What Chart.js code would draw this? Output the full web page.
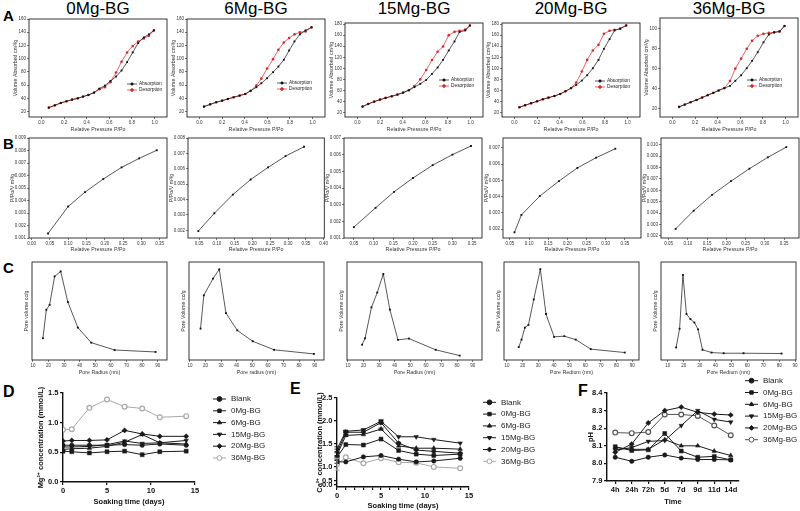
<!DOCTYPE html>
<html>
<head>
<meta charset="utf-8">
<title>Mg-BG characterisation</title>
<script src="https://cdn.jsdelivr.net/npm/chart.js@4.4.1/dist/chart.umd.min.js"></script>
<style>
  body { margin: 0; width: 800px; height: 511px; position: relative; overflow: hidden; background: #fff; font-family: "Liberation Sans", Arial, sans-serif; }
  canvas { position: absolute; }
  .tag { position: absolute; font-weight: bold; font-size: 15px; line-height: 1; color: #000; }
  .ttl { position: absolute; top: 0; width: 140px; text-align: center; font-size: 17px; line-height: 1; color: #000; }
</style>
</head>
<body>
<div class="tag" style="left:3px;top:8px">A</div>
<div class="tag" style="left:3px;top:136px">B</div>
<div class="tag" style="left:3px;top:260px">C</div>
<div class="tag" style="left:3px;top:384px;font-size:16px">D</div>
<div class="tag" style="left:290px;top:381px;font-size:16px">E</div>
<div class="tag" style="left:578px;top:383px;font-size:16px">F</div>
<div class="ttl" style="left:28px">0Mg-BG</div>
<div class="ttl" style="left:186px">6Mg-BG</div>
<div class="ttl" style="left:344px">15Mg-BG</div>
<div class="ttl" style="left:501px">20Mg-BG</div>
<div class="ttl" style="left:659px">36Mg-BG</div>

<script>
Chart.defaults.font.family = '"Liberation Sans", Arial, sans-serif';
Chart.defaults.color = '#222';

// ---- A: N2 adsorption / desorption isotherms ----
const pA1 = [0.065,0.118,0.171,0.221,0.271,0.321,0.368,0.415,0.465,0.512,0.561,0.61,0.66,0.708,0.757,0.807,0.855,0.905,0.95,0.994];
const adsA1 = [26.1,29.6,33.2,35.7,38.2,40.2,42.8,45.3,48.8,54.9,59.4,66.5,73.1,82.2,94.8,109.5,123.6,132.2,136.8,142.8];
const desA1 = [26.1,29.6,33.2,35.7,38.2,40.2,42.8,45.3,48.8,53.9,57,64.5,79.2,95.3,109.5,119.1,126.1,130.7,134.7,142.8];

const pA2 = [0.04,0.095,0.148,0.201,0.251,0.302,0.355,0.405,0.453,0.503,0.547,0.598,0.651,0.698,0.746,0.793,0.84,0.888,0.938,0.991];
const adsA2 = [27.6,31.1,34.2,36.7,39.2,41.8,44.3,46.8,51.5,57,63,70.6,79.7,88.2,98.4,112.5,126.1,136.8,142.8,147.4];
const desA2 = [27.6,31.1,34.2,36.7,39.2,41.8,44.3,46.8,51.5,59.5,70,85.2,99.4,113.5,124.6,131.2,136.8,139.8,141.3,147.4];

const pA3 = [0.045,0.095,0.148,0.199,0.249,0.303,0.353,0.404,0.454,0.504,0.555,0.608,0.659,0.709,0.757,0.807,0.858,0.902,0.953,0.994];
const adsA3 = [30.8,35.6,39.8,43.4,46.5,49.5,52.5,56.1,60.4,66,72,79,90,101.5,115.3,132.3,148.6,165.5,168.5,177.6];
const desA3 = [30.8,35.6,39.8,43.4,46.5,49.5,52.5,56.1,60.4,68,80,97,115,130,139.5,160,166,168,170,177.6];

const pA4 = [0.044,0.094,0.147,0.2,0.251,0.301,0.354,0.404,0.451,0.501,0.546,0.596,0.643,0.693,0.743,0.791,0.841,0.885,0.935,0.988];
const adsA4 = [29.5,33.2,36.8,40.4,44,47,50,53.7,58.5,64,70,77.9,87.6,100.2,115.3,135.3,152.8,168.5,172,177.6];
const desA4 = [29.5,33.2,36.8,40.4,44,47,50,53.7,58.5,64.5,74.3,94.2,115.3,132.3,142.5,162.5,167.9,169.7,171.5,177.6];

const pA5 = [0.059,0.109,0.16,0.213,0.263,0.311,0.361,0.408,0.459,0.509,0.556,0.607,0.657,0.704,0.754,0.805,0.852,0.899,0.947,0.991];
const adsA5 = [21.4,23.7,26.1,28.4,30.8,33.2,35.5,37.9,40.3,42.6,47.7,53.3,60.4,67.8,76.5,86.5,94.3,96.6,97.3,103];
const desA5 = [21.4,23.7,26.1,28.4,30.8,33.2,35.5,37.9,40.3,47.5,60,70,80,88,93,95,96,96.5,97.5,103];

// ---- B: BET plots ----
const pB1 = [0.045,0.1,0.146,0.196,0.246,0.294,0.342];
const vB1 = [0.00136,0.00352,0.00467,0.00572,0.00665,0.00737,0.00802];
const pB2 = [0.048,0.093,0.145,0.195,0.244,0.293,0.345];
const vB2 = [0.00195,0.00311,0.00432,0.0053,0.00609,0.00682,0.00743];
const pB3 = [0.05,0.105,0.152,0.2,0.25,0.3,0.347];
const vB3 = [0.00165,0.00281,0.00377,0.0046,0.00537,0.006,0.00652];
const pB4 = [0.062,0.08,0.128,0.178,0.226,0.275,0.325];
const vB4 = [0.0018,0.00287,0.00403,0.00495,0.00576,0.00639,0.00694];
const pB5 = [0.068,0.115,0.163,0.212,0.26,0.308,0.356];
const vB5 = [0.0026,0.0042,0.0056,0.0068,0.0079,0.0089,0.0098];

// ---- C: pore size distributions (relative pore volume) ----
const rC1 = [16.4,18.6,20.7,23.9,27.8,32.4,38.8,47.4,62.4,88.7];
const vC1 = [0.222,0.512,0.563,0.853,0.904,0.591,0.331,0.177,0.102,0.082];
const rC2 = [16.8,18.9,24.8,28.8,33.1,40.4,50.3,64,89.5];
const vC2 = [0.32,0.66,0.83,0.925,0.479,0.302,0.191,0.104,0.062];
const rC3 = [19.1,21,25.1,28.8,32.7,36.9,42.1,49.1,66.3,81.7];
const vC3 = [0.156,0.222,0.538,0.688,0.878,0.514,0.205,0.219,0.104,0.045];
const rC4 = [17.5,19.3,21.4,23.7,27.1,31.3,34.9,40.1,46.6,53.9,63.5,85.2];
const vC4 = [0.132,0.208,0.33,0.358,0.618,0.927,0.469,0.236,0.243,0.208,0.111,0.076];
const rC5 = [15.2,17.4,19.5,21.7,24.2,26.7,29,31.8,37.5,45.1,57.6,81.5];
const vC5 = [0.128,0.319,0.868,0.469,0.417,0.382,0.313,0.104,0.076,0.069,0.069,0.066];

// ---- D / E / F: soaking experiments ----
const groups = ['Blank', '0Mg-BG', '6Mg-BG', '15Mg-BG', '20Mg-BG', '36Mg-BG'];
const days = [0, 1, 3, 5, 7, 9, 11, 14];
const mgIon = [
  [0.62,0.62,0.62,0.62,0.63,0.62,0.64,0.62],
  [0.52,0.51,0.49,0.51,0.52,0.46,0.51,0.52],
  [0.55,0.56,0.57,0.60,0.67,0.80,0.66,0.64],
  [0.59,0.59,0.60,0.63,0.69,0.65,0.66,0.70],
  [0.69,0.70,0.70,0.71,0.87,0.81,0.77,0.77],
  [0.88,0.89,1.25,1.39,1.27,1.24,1.09,1.11]
];
const caIon = [
  [1.10,1.10,1.21,1.24,1.16,1.10,1.12,1.18],
  [1.20,1.48,1.47,1.60,1.35,1.27,1.24,1.27],
  [1.25,1.68,1.70,1.82,1.45,1.40,1.40,1.38],
  [1.38,1.77,1.80,1.99,1.65,1.65,1.59,1.51],
  [1.30,1.75,1.75,1.96,1.51,1.36,1.33,1.29],
  [1.05,1.20,1.07,1.18,1.09,1.08,0.99,0.96]
];
// standard deviations shown as error bars in E
const caErr = [
  [0.03,0,0,0,0,0,0,0],
  [0.04,0,0,0,0,0,0,0],
  [0.05,0.02,0,0.02,0,0,0,0],
  [0.05,0.02,0.02,0.03,0,0,0,0],
  [0.08,0.02,0,0.03,0.02,0,0,0],
  [0.13,0,0,0,0,0,0,0]
];
const times = ['4h', '24h', '72h', '5d', '7d', '9d', '11d', '14d'];
const phVal = [
  [8.035,8.012,8.035,8.048,8.03,8.022,8.022,8.02],
  [8.095,8.073,8.077,8.17,8.07,8.035,8.04,8.02],
  [8.09,8.08,8.08,8.135,8.1,8.1,8.07,8.045],
  [8.075,8.09,8.125,8.13,8.215,8.30,8.25,8.235],
  [8.063,8.11,8.23,8.30,8.32,8.29,8.28,8.275],
  [8.175,8.172,8.178,8.278,8.278,8.27,8.215,8.16]
];

const tickPA = [0, 0.2, 0.4, 0.6, 0.8, 1.0];
const tickPB = [0, 0.05, 0.1, 0.15, 0.2, 0.25, 0.3, 0.35];
const tickR = [10, 20, 30, 40, 50, 60, 70, 80, 90];
const eTickVals = [0.6, 0.68, 1.0, 1.5, 2.0, 2.5];
const eTickText = ['0.0', '0.5', '1.0', '1.5', '2.0', '2.5'];

// ---------- plugins ----------
const framePlugin = {
  id: 'frame',
  afterDraw(chart, args, o) {
    if (!o.display) return;
    const { ctx, chartArea: a } = chart;
    ctx.save();
    ctx.strokeStyle = '#222';
    ctx.lineWidth = 0.9;
    ctx.strokeRect(a.left, a.top, a.right - a.left, a.bottom - a.top);
    ctx.restore();
  }
};

const keyPlugin = {
  id: 'key',
  afterDraw(chart, args, o) {
    if (!o.show) return;
    const ctx = chart.ctx;
    const base = o.inside ? chart.chartArea : { left: 0, top: 0 };
    ctx.save();
    ctx.font = o.font;
    ctx.textBaseline = 'middle';
    chart.data.datasets.forEach((ds, i) => {
      const x = base.left + o.x, y = base.top + o.y + i * o.gap;
      ctx.strokeStyle = ds.borderColor;
      ctx.lineWidth = ds.borderWidth;
      ctx.beginPath(); ctx.moveTo(x, y); ctx.lineTo(x + o.len, y); ctx.stroke();
      ctx.fillStyle = ds.pointBackgroundColor;
      ctx.strokeStyle = ds.pointBorderColor;
      ctx.lineWidth = 1;
      Chart.helpers.drawPoint(ctx, { pointStyle: ds.pointStyle, rotation: ds.pointRotation || 0, radius: o.r, borderWidth: ds.pointBorderWidth || 0.01 }, x + o.len / 2, y);
      ctx.fillStyle = '#222';
      ctx.fillText(ds.label, x + o.len + o.pad, y);
    });
    ctx.restore();
  }
};

// vertical error bars with caps, read from dataset.errors
const errPlugin = {
  id: 'errs',
  afterDatasetsDraw(chart) {
    const ctx = chart.ctx, ys = chart.scales.y;
    ctx.save();
    chart.data.datasets.forEach((ds, i) => {
      if (!ds.errors) return;
      const meta = chart.getDatasetMeta(i);
      ctx.strokeStyle = ds.borderColor;
      ctx.lineWidth = 1;
      meta.data.forEach((pt, j) => {
        const e = ds.errors[j];
        if (!e) return;
        const v = ds.data[j].y;
        const y1 = ys.getPixelForValue(v - e), y2 = ys.getPixelForValue(v + e);
        ctx.beginPath();
        ctx.moveTo(pt.x, y1); ctx.lineTo(pt.x, y2);
        ctx.moveTo(pt.x - 2.5, y1); ctx.lineTo(pt.x + 2.5, y1);
        ctx.moveTo(pt.x - 2.5, y2); ctx.lineTo(pt.x + 2.5, y2);
        ctx.stroke();
      });
    });
    ctx.restore();
  }
};
Chart.register(framePlugin, keyPlugin, errPlugin);

function addCanvas(left, top, w, h) {
  const c = document.createElement('canvas');
  c.width = w; c.height = h;
  c.style.left = left + 'px'; c.style.top = top + 'px';
  c.style.width = w + 'px'; c.style.height = h + 'px';
  document.body.appendChild(c);
  return c;
}

function xy(xs, ys) { return xs.map((x, i) => ({ x, y: ys[i] })); }

// ---------- small Origin-style panels ----------
function axisSmall(a, isX, size) {
  const o = {
    type: 'linear', position: isX ? 'bottom' : 'left',
    min: a.min, max: a.max,
    afterFit: s => { if (isX) s.height = size; else s.width = size; },
    grid: { display: !!a.ticks, drawOnChartArea: false, drawTicks: true, tickLength: 2, color: '#222', lineWidth: 0.6 },
    border: { display: false },
    ticks: { display: !!a.ticks, font: { size: 4.5 }, color: '#333', padding: 1, maxRotation: 0, autoSkip: false },
    title: { display: true, text: a.title, color: '#333', font: { size: 5.3 }, padding: isX ? { top: 0, bottom: a.tp } : { top: a.tp, bottom: 0 } }
  };
  if (a.ticks) {
    o.afterBuildTicks = s => { s.ticks = a.ticks.map(v => ({ value: v })); };
    o.ticks.callback = v => a.fmt(v);
  }
  return o;
}

function smallPanel(cfg) {
  const padT = 4, padR = 3, yw = 29;
  const cv = addCanvas(cfg.fl - yw, cfg.ft - padT, yw + cfg.fw + padR, padT + cfg.fh + cfg.xh);
  new Chart(cv, {
    type: 'scatter',
    data: { datasets: cfg.sets },
    options: {
      responsive: false, animation: false,
      layout: { padding: { top: padT, right: padR, left: 0, bottom: 0 }, autoPadding: false },
      scales: { x: axisSmall(cfg.x, true, cfg.xh), y: axisSmall(cfg.y, false, yw) },
      plugins: { legend: { display: false }, tooltip: { enabled: false }, frame: { display: true }, key: cfg.key || {} }
    }
  });
}

function line(label, data, color, style) {
  return { label, data, showLine: true, borderColor: color, pointBackgroundColor: color, pointBorderColor: color,
           borderWidth: 0.7, pointStyle: style, pointRadius: 1.3, pointBorderWidth: 0 };
}

const fmt1 = v => v.toFixed(1), fmt2 = v => v.toFixed(2), fmt3 = v => v.toFixed(3), fmt0 = v => String(v);
const framesL = [29, 187, 345, 502, 660];

// row A
const isoData = [[pA1, adsA1, desA1], [pA2, adsA2, desA2], [pA3, adsA3, desA3], [pA4, adsA4, desA4], [pA5, adsA5, desA5]];
const yA = [
  { min: 12, max: 160, ticks: [20, 40, 60, 80, 100, 120, 140, 160], ft: 19 },
  { min: 12, max: 160, ticks: [20, 40, 60, 80, 100, 120, 140, 160], ft: 19 },
  { min: 12, max: 182, ticks: [20, 40, 60, 80, 100, 120, 140, 160, 180], ft: 23 },
  { min: 12, max: 182, ticks: [20, 40, 60, 80, 100, 120, 140, 160, 180], ft: 23 },
  { min: 11.2, max: 111, ticks: [20, 40, 60, 80, 100], ft: 18 }
];
const keyA = [[98, 65], [90, 64], [94, 57], [93, 58], [87, 62]];
isoData.forEach((d, i) => {
  smallPanel({
    fl: framesL[i], ft: yA[i].ft, fw: 138, fh: 117 - yA[i].ft, xh: 17,
    sets: [line('Absorption', xy(d[0], d[1]), '#111', 'rect'), line('Desorption', xy(d[0], d[2]), '#d42a2a', 'circle')],
    x: { min: -0.11, max: 1.11, ticks: tickPA, fmt: fmt1, title: 'Relative Pressure P/Po', tp: 1.5 },
    y: { min: yA[i].min, max: yA[i].max, ticks: yA[i].ticks, fmt: fmt0, title: 'Volume Absorbed cm\u00b3/g', tp: 12 },
    key: { show: true, inside: true, x: keyA[i][0], y: keyA[i][1], gap: 6, len: 10, pad: 2, r: 1.3, font: '4.8px "Liberation Sans"' }
  });
});

// row B
const betData = [[pB1, vB1], [pB2, vB2], [pB3, vB3], [pB4, vB4], [pB5, vB5]];
const xB = [[-0.007, 0.37], [0.019, 0.402], [0.025, 0.375], [0.032, 0.392], [0.03, 0.389]];
const yB = [
  { min: 0.001, max: 0.009, ticks: [0.001, 0.002, 0.003, 0.004, 0.005, 0.006, 0.007, 0.008, 0.009] },
  { min: 0.0015, max: 0.008, ticks: [0.002, 0.003, 0.004, 0.005, 0.006, 0.007, 0.008] },
  { min: 0.001, max: 0.007, ticks: [0.001, 0.002, 0.003, 0.004, 0.005, 0.006, 0.007] },
  { min: 0.00145, max: 0.0076, ticks: [0.002, 0.003, 0.004, 0.005, 0.006, 0.007] },
  { min: 0.0018, max: 0.0106, ticks: [0.002, 0.003, 0.004, 0.005, 0.006, 0.007, 0.008, 0.009, 0.010] }
];
const tickPB2 = [0.05, 0.1, 0.15, 0.2, 0.25, 0.3, 0.35, 0.4];
const tickPB3 = [0.05, 0.1, 0.15, 0.2, 0.25, 0.3, 0.35];
const xTicksB = [tickPB, tickPB2, tickPB3, tickPB3, tickPB3];
betData.forEach((d, i) => {
  smallPanel({
    fl: [29, 188, 344, 503, 661][i], ft: 138, fw: 138, fh: 100, xh: 16,
    sets: [line('BET', xy(d[0], d[1]), '#111', 'rect')],
    x: { min: xB[i][0], max: xB[i][1], ticks: xTicksB[i], fmt: fmt2, title: 'Relative Pressure P/Po', tp: 1.5 },
    y: { min: yB[i].min, max: yB[i].max, ticks: yB[i].ticks, fmt: fmt3, title: 'P/Po/V m\u00b3/g', tp: 9 }
  });
});

// row C
const psdData = [[rC1, vC1], [rC2, vC2], [rC3, vC3], [rC4, vC4], [rC5, vC5]];
const yTitleC = ['Pore volume cc/g', 'Pore Volume cc/g', 'Pore Volume cc/g', 'Pore Volume cc/g', 'Pore Volume cc/g'];
const xTitleC = ['Pore Radius (nm)', 'Pore radius (nm)', 'Pore Radius (nm)', 'Pore Redium (nm)', 'Pore Redium (nm)'];
const xC = [[9.4, 96], [9.4, 96], [9.4, 96], [8.1, 94.3], [5.7, 90.6]];
psdData.forEach((d, i) => {
  smallPanel({
    fl: [32, 189, 347, 504, 661][i], ft: 262, fw: 135, fh: 98, xh: 17,
    sets: [line('PSD', xy(d[0], d[1]), '#111', 'rect')],
    x: { min: xC[i][0], max: xC[i][1], ticks: tickR, fmt: fmt0, title: xTitleC[i], tp: 1 },
    y: { min: 0, max: 1, title: yTitleC[i], tp: 20 }
  });
});

// ---------- GraphPad-style panels ----------
const marks = [
  { style: 'circle', r: 2.2 },
  { style: 'rect', r: 2.8 },
  { style: 'triangle', r: 2.6 },
  { style: 'triangle', r: 2.6, rot: 180 },
  { style: 'rectRot', r: 2.6 },
  { style: 'circle', r: 2.4, open: true }
];

function groupSets(values, xs, openColor, errs) {
  return values.map((vals, i) => {
    const m = marks[i];
    const col = m.open ? openColor : '#1a1a1a';
    return {
      label: groups[i],
      data: xs ? xy(xs, vals) : vals,
      errors: errs ? errs[i] : null,
      showLine: true, borderColor: col, borderWidth: 1,
      pointStyle: m.style, pointRotation: m.rot || 0, pointRadius: m.r,
      pointBackgroundColor: m.open ? '#fff' : col, pointBorderColor: col, pointBorderWidth: m.open ? 1.2 : 0.5
    };
  });
}

function axisBig(a, isX, size) {
  const o = {
    position: isX ? 'bottom' : 'left',
    afterFit: s => { if (isX) s.height = size; else s.width = size; },
    grid: { drawOnChartArea: false, drawTicks: true, tickLength: 3, color: '#111', lineWidth: 1.2 },
    border: { display: true, color: '#111', width: 1.4 },
    ticks: { font: { size: 7.5, weight: 'bold' }, color: '#111', padding: 1.5, maxRotation: 0, autoSkip: false },
    title: { display: true, text: a.title, color: '#111', font: { size: 7.5, weight: 'bold' }, padding: isX ? { top: 0, bottom: a.tp } : { top: a.tp, bottom: 0 } }
  };
  if (a.category) {
    o.type = 'category'; o.offset = true;
  } else {
    o.type = 'linear'; o.min = a.min; o.max = a.max;
    o.afterBuildTicks = s => { s.ticks = a.ticks.map(v => ({ value: v })); };
    o.ticks.callback = (v, i) => a.fmt(v, i);
  }
  return o;
}

function bigPanel(cfg) {
  const cv = addCanvas(cfg.left, cfg.top, cfg.w, cfg.h);
  new Chart(cv, {
    type: cfg.category ? 'line' : 'scatter',
    data: cfg.category ? { labels: cfg.labels, datasets: cfg.sets } : { datasets: cfg.sets },
    options: {
      responsive: false, animation: false,
      layout: { padding: { top: cfg.padT, right: cfg.padR, left: 0, bottom: 0 }, autoPadding: false },
      scales: { x: axisBig(cfg.x, true, cfg.xh), y: axisBig(cfg.y, false, cfg.yw) },
      plugins: { legend: { display: false }, tooltip: { enabled: false },
                 key: { show: true, x: cfg.key[0], y: cfg.key[1], gap: 11.8, len: 13, pad: 5, r: 2.4, font: '8px "Liberation Sans"' } }
    }
  });
}

// D: Mg2+ release
bigPanel({
  left: 0, top: 380, w: 290, h: 131, padT: 13, padR: 95, yw: 63, xh: 29,
  sets: groupSets(mgIon, days, '#a8a8a8'),
  x: { min: 0, max: 15, ticks: [0, 5, 10, 15], fmt: fmt0, title: 'Soaking time (days)', tp: 5 },
  y: { min: 0, max: 1.5, ticks: [0, 0.5, 1.0, 1.5], fmt: fmt1, title: 'Mg\u00b2\u207a concentration (mmol/L)', tp: 36 },
  key: [213, 19]
});

// E: Ca2+ release (broken y axis)
bigPanel({
  left: 270, top: 380, w: 270, h: 131, padT: 18, padR: 71, yw: 67, xh: 24,
  sets: groupSets(caIon, days, '#a8a8a8', caErr),
  x: { min: 0, max: 15, ticks: [0,1,2,3,4,5,6,7,8,9,10,11,12,13,14,15], fmt: v => (v % 5 === 0 ? String(v) : ''), title: 'Soaking time (days)', tp: 0.5 },
  y: { min: 0.55, max: 2.5, ticks: eTickVals, fmt: (v, i) => eTickText[i], title: 'Ca\u00b2\u207a concentration (mmol/L)', tp: 45 },
  key: [213, 22.3]
});

// F: pH
bigPanel({
  left: 535, top: 375, w: 265, h: 136, padT: 18, padR: 61, yw: 72, xh: 30,
  category: true, labels: times,
  sets: groupSets(phVal, null, '#555'),
  x: { category: true, title: 'Time', tp: 5 },
  y: { min: 7.9, max: 8.4, ticks: [7.9, 8.0, 8.1, 8.2, 8.3, 8.4], fmt: fmt1, title: 'pH', tp: 51 },
  key: [210, 5.7]
});
</script>
</body>
</html>
